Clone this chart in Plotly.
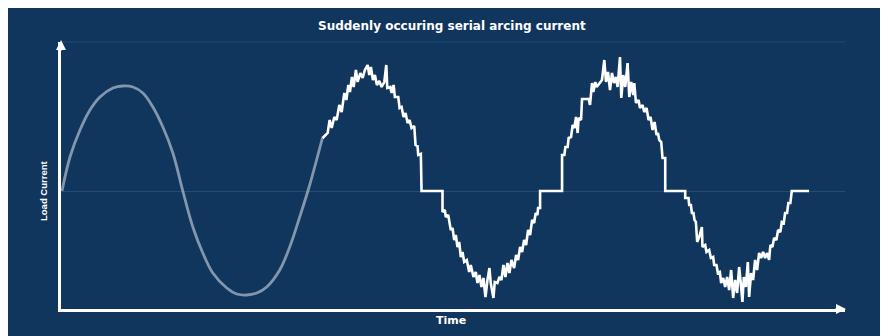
import plotly.graph_objects as go

# Time in ms (arbitrary scale), current in A (arbitrary scale)
normal_t = [0, 0.8, 1.8, 2.8, 3.8, 5.1, 6.1, 7.1, 8.1, 9.1, 10.1, 11.1, 12.1, 13.1, 14.1,
            15.1, 16.5, 17.5, 18.5, 19.5, 20.5, 21.8, 22.8, 23.8, 24.8, 26.1]
normal_i = [0, 3.4, 6.1, 8.1, 9.4, 10.3, 10.5, 10.4, 9.8, 8.4, 6.4, 3.8, 0, -3.6, -6.2,
            -8.2, -9.7, -10.3, -10.4, -10.2, -9.6, -7.9, -5.6, -2.6, 0.6, 5.4]

arc_t = [
    26.1, 26.6, 26.8, 27.0, 27.27, 27.5, 27.77, 28.0, 28.27, 28.47, 28.67, 28.83, 29.03, 29.2,
    29.43, 29.6, 29.87, 30.1, 30.33, 30.6, 30.77, 30.93, 31.13, 31.33, 31.53, 31.77, 32.0, 32.27,
    32.47, 32.57, 32.87, 33.0, 33.2, 33.33, 33.67, 33.8, 34.0, 34.2, 34.4, 34.6, 34.8, 35.0,
    35.27, 35.4, 35.6, 35.67, 35.93, 36.0, 38.1,
    38.1, 38.33, 38.43, 38.67, 38.77, 38.93, 39.1, 39.27, 39.43, 39.6, 39.77, 39.93, 40.1, 40.27,
    40.53, 40.77, 40.93, 41.2, 41.43, 41.6, 41.8, 42.0, 42.2, 42.4, 42.6, 42.8, 42.93, 43.2,
    43.33, 43.6, 43.8, 44.0, 44.2, 44.4, 44.6, 44.8, 45.0, 45.27, 45.47, 45.67, 45.87, 46.07,
    46.27, 46.47, 46.67, 46.87, 47.07, 47.27, 47.43, 47.6, 47.67, 47.87, 47.87, 50.07,
    50.07, 50.3, 50.4, 50.63, 50.73, 50.97, 51.13, 51.3, 51.47, 51.63, 51.73, 51.97, 52.07, 52.73,
    52.87, 53.07, 53.2, 53.4, 53.53, 53.8, 54.07, 54.3, 54.47, 54.67, 54.87, 55.07, 55.27, 55.47,
    55.63, 55.87, 56.0, 56.2, 56.4, 56.63, 56.8, 57.0, 57.2, 57.3, 57.47, 57.73, 57.87, 58.13,
    58.3, 58.53, 58.73, 58.93, 59.13, 59.33, 59.53, 59.67, 59.8, 60.0, 60.13, 60.4, 60.4, 62.4,
    62.4, 62.73, 62.8, 62.97, 63.07, 63.23, 63.33, 63.47, 63.6, 63.8, 64.07, 64.13, 64.4, 64.53,
    64.8, 64.97, 65.2, 65.3, 65.53, 65.67, 65.87, 66.0, 66.2, 66.4, 66.6, 66.8, 67.0, 67.2,
    67.4, 67.6, 67.8, 68.0, 68.13, 68.27, 68.47, 68.67, 68.8, 69.0, 69.2, 69.4, 69.6, 69.8,
    70.0, 70.2, 70.4, 70.6, 70.8, 70.93, 71.13, 71.3, 71.53, 71.7, 71.93, 72.07, 72.27, 72.4,
    72.6, 72.73, 72.93, 73.07, 74.8]
arc_i = [
    5.3, 5.8, 7.1, 6.3, 7.4, 7.1, 8.6, 7.9, 9.8, 9.1, 10.6, 9.9, 11.4, 10.4,
    12.1, 10.9, 11.8, 11.3, 12.1, 12.6, 11.6, 12.4, 11.1, 11.6, 10.6, 11.0, 10.4, 10.9,
    12.6, 10.3, 10.4, 9.8, 10.6, 9.4, 9.4, 8.3, 8.4, 7.4, 7.8, 6.8, 7.1, 6.3,
    6.5, 4.6, 4.5, 3.6, 3.7, 0, 0,
    -2.1, -1.9, -2.6, -2.4, -3.1, -3.9, -3.7, -4.9, -4.4, -5.6, -5.1, -6.6, -6.1, -7.1,
    -6.9, -8.1, -7.4, -8.6, -8.1, -9.2, -8.4, -9.6, -8.7, -10.6, -8.9, -7.7, -9.2, -10.7,
    -9.1, -9.2, -8.6, -8.9, -7.4, -8.6, -7.2, -8.2, -6.9, -7.7, -6.4, -6.9, -5.6, -6.1,
    -4.9, -5.4, -3.9, -4.4, -2.9, -3.2, -2.2, -2.4, -1.7, -1.7, 0, 0,
    3.6, 3.6, 4.4, 4.4, 5.3, 5.4, 6.6, 6.3, 7.4, 5.8, 7.3, 7.1, 9.2, 9.2,
    8.6, 10.8, 9.9, 10.9, 10.4, 10.8, 11.1, 13.1, 10.9, 11.9, 10.1, 11.8, 10.8, 11.4,
    10.4, 13.4, 9.3, 11.6, 10.4, 12.8, 9.4, 10.9, 9.6, 10.8, 8.8, 9.1, 8.3, 8.6,
    7.9, 8.3, 7.1, 7.4, 6.1, 6.9, 5.6, 5.8, 5.1, 4.9, 3.3, 3.3, 0, 0,
    -0.7, -0.7, -1.4, -1.4, -2.2, -2.2, -2.9, -3.1, -5.1, -4.6, -3.6, -5.6, -5.4, -6.1,
    -5.9, -6.7, -6.6, -7.4, -7.4, -8.2, -8.1, -9.2, -8.7, -9.6, -8.6, -9.9, -7.9, -10.7,
    -8.9, -10.2, -7.6, -9.6, -11.1, -8.6, -9.6, -7.1, -10.6, -8.2, -8.9, -6.9, -7.9, -6.2,
    -6.7, -6.1, -6.7, -6.2, -6.9, -5.4, -5.6, -4.7, -4.9, -3.9, -4.1, -3.1, -3.2, -2.2,
    -2.2, -1.2, -1.2, 0, 0]

title_text = "Suddenly occuring serial arcing current"
x_label = "Time"
y_label = "Load Current"

NAVY = "#11365d"
GRID = "#1d4f78"

fig = go.Figure()
fig.add_trace(go.Scatter(x=normal_t, y=normal_i, mode="lines",
                         line=dict(color="rgba(200,210,225,0.62)", width=2.8, shape="spline"),
                         hoverinfo="skip", showlegend=False))
fig.add_trace(go.Scatter(x=arc_t, y=arc_i, mode="lines",
                         line=dict(color="white", width=2.6),
                         hoverinfo="skip", showlegend=False))

# The page places the figure at an 8px offset (body margin); positions below
# are given in figure pixels.
W, H = 888, 336
L, R, T, B = 53, 51, 34, 35
pw, ph = W - L - R, H - T - B

def px(xp):
    return (xp - L) / pw

def py(yp):
    return (H - B - yp) / ph

fig.update_layout(
    width=W, height=H,
    margin=dict(l=L, r=R, t=T, b=B),
    paper_bgcolor=NAVY, plot_bgcolor=NAVY,
    xaxis=dict(range=[-0.1, 78.4], showgrid=False, zeroline=False, showticklabels=False,
               ticks="", showline=True, linecolor="white", linewidth=2.5),
    yaxis=dict(range=[-11.8, 14.9], showgrid=False, zeroline=True, zerolinecolor=GRID,
               zerolinewidth=1, showticklabels=False, ticks="",
               showline=True, linecolor="white", linewidth=2.5),
    shapes=[
        dict(type="line", xref="paper", yref="paper", x0=0, x1=1, y0=1, y1=1,
             line=dict(color=GRID, width=1), layer="below"),
    ],
    annotations=[
        dict(text="<b>" + title_text + "</b>", xref="paper", yref="paper", x=px(444), y=py(18),
             showarrow=False, font=dict(family="DejaVu Sans", size=12, color="white"),
             xanchor="center", yanchor="middle"),
        dict(text="<b>" + x_label + "</b>", xref="paper", yref="paper", x=px(443), y=py(312),
             showarrow=False, font=dict(family="DejaVu Sans", size=11, color="white"),
             xanchor="center", yanchor="middle"),
        dict(text="<b>" + y_label + "</b>", xref="paper", yref="paper", x=px(35), y=py(183),
             textangle=-90, showarrow=False,
             font=dict(family="Liberation Sans", size=9.5, color="white"),
             xanchor="center", yanchor="middle"),
        dict(text="", xref="paper", yref="paper", x=px(838), y=0, ax=-12, ay=0,
             showarrow=True, arrowhead=2, arrowsize=1, arrowwidth=2, arrowcolor="white"),
        dict(text="", xref="paper", yref="paper", x=0, y=py(32), ax=0, ay=12,
             showarrow=True, arrowhead=2, arrowsize=1, arrowwidth=2, arrowcolor="white"),
    ],
)

fig.write_html("out.html")
